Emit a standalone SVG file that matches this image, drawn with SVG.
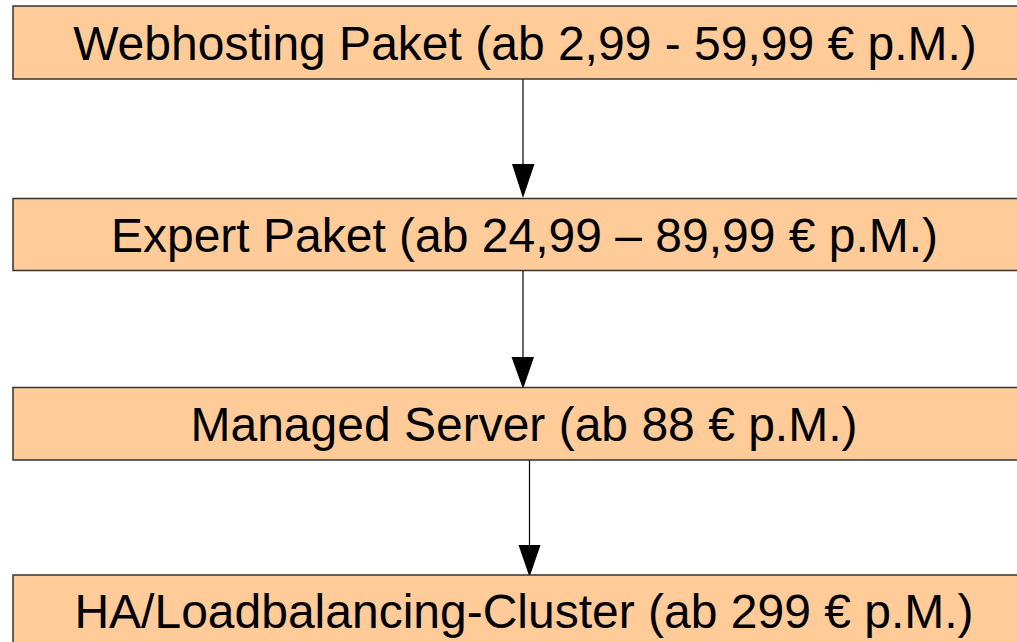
<svg xmlns="http://www.w3.org/2000/svg" width="1017" height="642" viewBox="0 0 1017 642">
  <style>
    .box { fill: #ffcc99; stroke: #333333; stroke-width: 1.5; }
    .label { font-family: "Liberation Sans", Arial, sans-serif; font-size: 48px; fill: #000000; text-anchor: middle; }
    .edge { stroke: #000000; stroke-width: 1.2; fill: none; }
    .head { fill: #000000; stroke: none; }
  </style>
  <rect width="1017" height="642" fill="#ffffff"/>

  <g id="connectors">
    <line class="edge" x1="523" y1="79" x2="523" y2="166"/>
    <polygon class="head" points="512,164 534.5,164 523,198"/>
    <line class="edge" x1="523" y1="271" x2="523" y2="358"/>
    <polygon class="head" points="511.5,357 534,357 523,389"/>
    <line class="edge" x1="529.5" y1="460" x2="529.5" y2="546"/>
    <polygon class="head" points="518.5,545 540.5,545 529.5,577"/>
  </g>

  <g id="webhosting">
    <rect class="box" x="13" y="6" width="1030" height="73"/>
    <text class="label" x="525" y="60">Webhosting Paket (ab 2,99 - 59,99 € p.M.)</text>
  </g>

  <g id="expert">
    <rect class="box" x="13" y="198.5" width="1030" height="72"/>
    <text class="label" x="524.5" y="252">Expert Paket (ab 24,99 – 89,99 € p.M.)</text>
  </g>

  <g id="managed">
    <rect class="box" x="13" y="387.5" width="1030" height="72.5"/>
    <text class="label" x="524" y="440.5">Managed Server (ab 88 € p.M.)</text>
  </g>

  <g id="cluster">
    <rect class="box" x="13" y="575" width="1030" height="73"/>
    <text class="label" x="524" y="628">HA/Loadbalancing-Cluster (ab 299 € p.M.)</text>
  </g>
</svg>
